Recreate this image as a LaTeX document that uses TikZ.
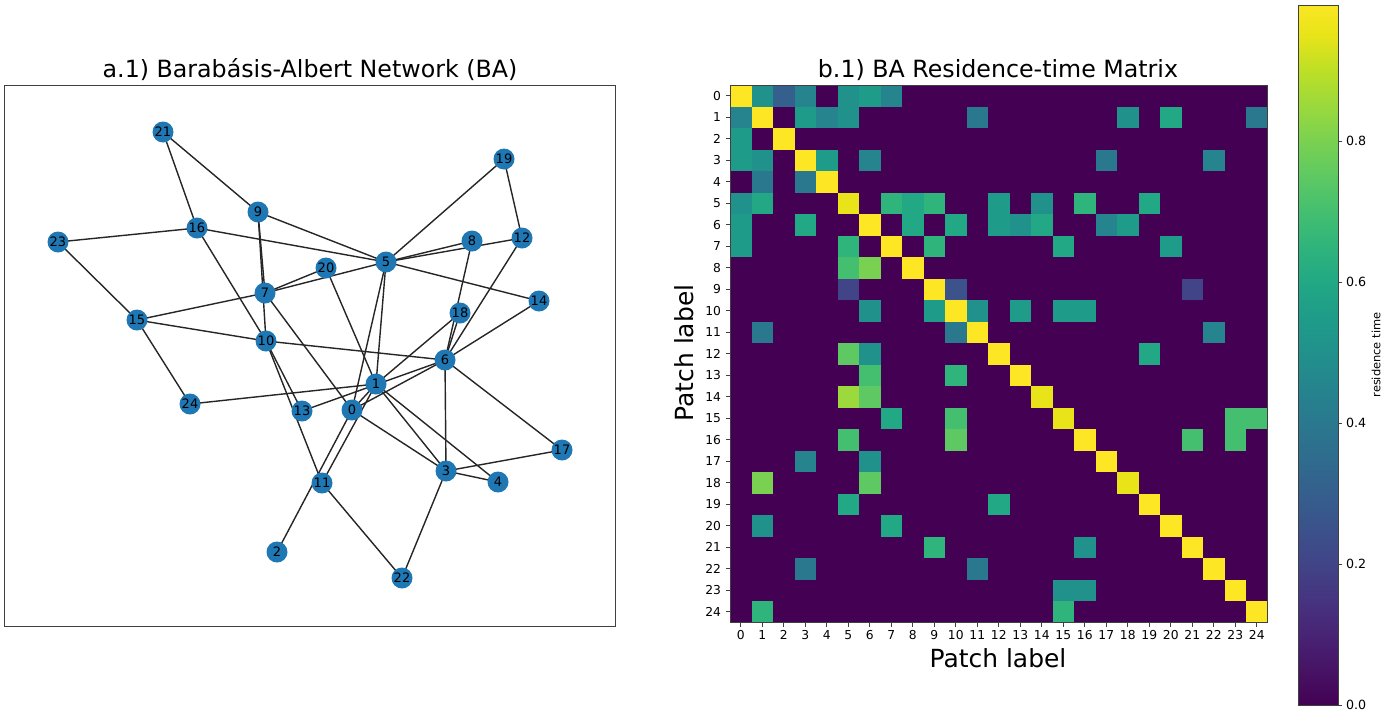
\documentclass[tikz,border=0pt]{standalone}
\usepackage{fontspec}
\setmainfont{DejaVu Sans}
\usepackage{tikz}
\usetikzlibrary{positioning,backgrounds}
\definecolor{tabblue}{HTML}{1F77B4}
\definecolor{vir0}{HTML}{440154}
\definecolor{vir5}{HTML}{471365}
\definecolor{vir10}{HTML}{482475}
\definecolor{vir15}{HTML}{463480}
\definecolor{vir20}{HTML}{414487}
\definecolor{vir25}{HTML}{3B528B}
\definecolor{vir30}{HTML}{355F8D}
\definecolor{vir35}{HTML}{2F6C8E}
\definecolor{vir40}{HTML}{2A788E}
\definecolor{vir45}{HTML}{25848E}
\definecolor{vir50}{HTML}{21918C}
\definecolor{vir55}{HTML}{1E9C89}
\definecolor{vir60}{HTML}{22A884}
\definecolor{vir65}{HTML}{2FB47C}
\definecolor{vir70}{HTML}{44BF70}
\definecolor{vir75}{HTML}{5EC962}
\definecolor{vir80}{HTML}{7AD151}
\definecolor{vir85}{HTML}{9BD93C}
\definecolor{vir90}{HTML}{BDDF26}
\definecolor{vir95}{HTML}{E8E419}
\definecolor{vir100}{HTML}{FDE725}
\tikzset{
  vtx/.style={circle, fill=tabblue, inner sep=0pt, minimum size=0.42cm,
    font=\fontsize{7.4}{8}\selectfont, text=black},
  edge/.style={black!85, line width=0.8pt},
  frame/.style={black!75, line width=0.55pt},
  cell/.style={fill=vir#1},
  ttl/.style={font=\fontsize{13.5}{15}\selectfont},
  axlab/.style={font=\fontsize{14.2}{16}\selectfont},
  tk/.style={font=\fontsize{7}{8}\selectfont, inner sep=1pt},
  cbtk/.style={font=\fontsize{7.2}{8}\selectfont, inner sep=1pt, anchor=west},
}

\begin{document}
\begin{tikzpicture}[x=0.02cm,y=-0.02cm]
  \useasboundingbox (0,0) rectangle (1382,711);

  % a.1) network
  \draw[frame] (4,85) rectangle (615,626);
  \node[ttl] (ttlA) at (310,70) {a.1) Barabásis-Albert Network (BA)};
  \foreach \n/\p in {0/{(352,410)},1/{(376,384)},2/{(277,552)},3/{(446,471)},
      4/{(498,482)},5/{(386,262)},6/{(445,360)},7/{(265,293)},8/{(472,241)},
      9/{(258,212)},10/{(266,341)},11/{(322,483)},12/{(522,238)},13/{(302,411)},
      14/{(539,301)},15/{(137,320)},16/{(197,228)},17/{(562,450)},18/{(460,313)},
      19/{(504,159)},20/{(326,268)},21/{(163,132)},22/{(402,578)},23/{(58,242)},
      24/{(190,404)}}
    \node[vtx] (n\n) at \p {\n};
  \begin{pgfonlayer}{background}
    \foreach \a/\b in {0/1,0/2,0/3,0/5,0/6,0/7,1/3,1/4,1/5,1/11,1/18,1/20,1/24,
        3/4,3/6,3/17,3/22,5/7,5/8,5/9,5/12,5/14,5/16,5/19,6/8,6/10,6/12,6/13,
        6/14,6/17,6/18,7/9,7/15,7/20,9/10,9/21,10/11,10/13,10/15,10/16,11/22,
        12/19,15/23,15/24,16/21,16/23}
      \draw[edge] (n\a.center) -- (n\b.center);
  \end{pgfonlayer}

  % b.1) residence-time matrix
  \node[ttl] (ttlB) at (998,70) {b.1) BA Residence-time Matrix};
  \fill[vir0] (730,85) rectangle (1267.5,622.5);
  \foreach \i in {0,...,24}
    \fill[cell=100] ({730+21.5*\i},{85+21.5*\i}) rectangle ++(21.5,21.5);
  \foreach \i in {5,14,15,18}
    \fill[cell=95] ({730+21.5*\i},{85+21.5*\i}) rectangle ++(21.5,21.5);
  \foreach \r/\c/\v in {0/1/50,0/2/30,0/3/45,0/5/50,0/6/55,0/7/45,
      1/0/45,1/3/55,1/4/45,1/5/50,1/11/40,1/18/50,1/20/60,1/24/40,
      2/0/55,
      3/0/55,3/1/50,3/4/55,3/6/45,3/17/40,3/22/45,
      4/1/40,4/3/40,
      5/0/50,5/1/60,5/7/65,5/8/60,5/9/65,5/12/55,5/14/50,5/16/65,5/19/60,
      6/0/55,6/3/60,6/8/60,6/10/60,6/12/55,6/13/50,6/14/60,6/17/45,6/18/55,
      7/0/55,7/5/65,7/9/65,7/15/60,7/20/55,
      8/5/70,8/6/80,
      9/5/20,9/10/25,9/21/20,
      10/6/50,10/9/55,10/11/50,10/13/55,10/15/55,10/16/55,
      11/1/40,11/10/40,11/22/45,
      12/5/75,12/6/50,12/19/60,
      13/6/70,13/10/65,
      14/5/85,14/6/75,
      15/7/60,15/10/70,15/23/70,15/24/70,
      16/5/70,16/10/75,16/21/70,16/23/70,
      17/3/45,17/6/50,
      18/1/80,18/6/75,
      19/5/60,19/12/60,
      20/1/50,20/7/60,
      21/9/65,21/16/50,
      22/3/40,22/11/40,
      23/15/50,23/16/50,
      24/1/65,24/15/65}
    \fill[cell=\v] ({730+21.5*\c},{85+21.5*\r}) rectangle ++(21.5,21.5);
  \draw[frame] (730,85) rectangle (1267.5,622.5);
  \foreach \i in {0,...,24} {
    \draw[frame] (726,{85+21.5*(\i+0.5)}) -- (730,{85+21.5*(\i+0.5)});
    \node[tk,anchor=east] (row\i) at (723,{85+21.5*(\i+0.5)}) {\i};
    \draw[frame] ({730+21.5*(\i+0.5)},622.5) -- ({730+21.5*(\i+0.5)},626.5);
    \node[tk,anchor=north] (col\i) at ({730+21.5*(\i+0.5)},628) {\i};
  }
  \node[axlab] (xlab) at (998,658) {Patch label};
  \node[axlab,rotate=90] (ylab) at (684,353) {Patch label};

  % colorbar
  \begin{scope}
    \clip (1298,5) rectangle (1338,705);
    \foreach \a/\b in {0/5,5/10,10/15,15/20,20/25,25/30,30/35,35/40,40/45,
        45/50,50/55,55/60,60/65,65/70,70/75,75/80,80/85,85/90,90/95,95/100}
      \shade[bottom color=vir\a, top color=vir\b]
        (1298,{705-7.05*\a}) rectangle (1338,{705-7.05*\b-0.3});
  \end{scope}
  \draw[frame] (1298,5) rectangle (1338,705);
  \foreach \t/\y in {0.0/705,0.2/564,0.4/423,0.6/282,0.8/141} {
    \draw[frame] (1338,\y) -- (1342,\y);
    \node[cbtk] (cb\y) at (1344,\y) {\t};
  }
  \node[font=\fontsize{6.5}{8}\selectfont,rotate=90] (cblab) at (1376,355) {residence time};
\end{tikzpicture}
\end{document}
